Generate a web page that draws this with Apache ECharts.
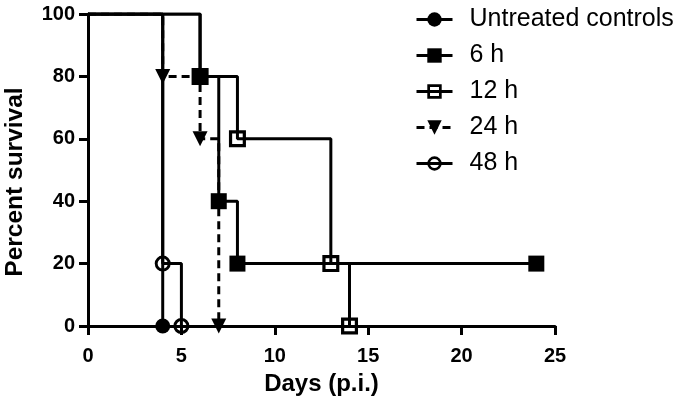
<!DOCTYPE html>
<html>
<head>
<meta charset="utf-8">
<script src="https://cdn.jsdelivr.net/npm/echarts@6/dist/echarts.min.js"></script>
<style>
html,body{margin:0;padding:0;background:#fff;}
#chart{width:675px;height:404px;}
</style>
</head>
<body>
<div id="chart"></div>
<script>
// Kaplan-Meier step data (day, percent survival); first point = start (no marker)
const seriesNames = ['Untreated controls', '6 h', '12 h', '24 h', '48 h'];
const untreatedDays = [0, 4];
const untreatedSurv = [100, 0];
const h6Days = [0, 6, 7, 8, 24];
const h6Surv = [100, 80, 40, 20, 20];
const h12Days = [0, 6, 8, 13, 14];
const h12Surv = [100, 80, 60, 20, 0];
const h24Days = [0, 4, 6, 7];
const h24Surv = [100, 80, 60, 0];
const h48Days = [0, 4, 5];
const h48Surv = [100, 20, 0];
const xTicks = [0, 5, 10, 15, 20, 25];
const yTicks = [0, 20, 40, 60, 80, 100];

function pts(days, surv) {
  return days.map((d, i) => i === 0 ? { value: [d, surv[i]], symbol: 'none' } : [d, surv[i]]);
}

const black = '#000';
const FONT = 'Liberation Sans, Arial, Helvetica, sans-serif';
// hollow ring shapes (hole via opposite winding) so the step lines show through
const OPEN_SQUARE = 'path://M0,0H18V18H0Z M3.4,3.4V14.6H14.6V3.4Z';
const OPEN_CIRCLE = 'path://M8,0A8,8 0 1,1 8,16A8,8 0 1,1 8,0Z M8,2.9A5.1,5.1 0 1,0 8,13.1A5.1,5.1 0 1,0 8,2.9Z';

function mk(name, days, surv, symbol, size, dashed, rotate) {
  return {
    name: name,
    type: 'line',
    step: 'end',
    data: pts(days, surv),
    symbol: symbol,
    symbolSize: size,
    symbolRotate: rotate || 0,
    showAllSymbol: true,
    animation: false,
    lineStyle: { color: black, width: 3, type: dashed ? [8, 5] : 'solid' },
    itemStyle: { color: black, borderColor: black, borderWidth: 0 },
    emphasis: { disabled: true }
  };
}

const chart = echarts.init(document.getElementById('chart'), null, { renderer: 'canvas' });
chart.setOption({
  backgroundColor: '#fff',
  animation: false,
  grid: { left: 88, right: 120, top: 14, bottom: 78, containLabel: false, outerBoundsMode: 'none' },
  legend: {
    orient: 'vertical',
    left: 410,
    top: 2,
    itemWidth: 36,
    itemHeight: 18,
    itemGap: 11,
    selectedMode: false,
    lineStyle: { width: 3 },
    textStyle: { fontFamily: FONT, fontSize: 25, color: black, padding: [0, 0, 0, 12] },
    data: seriesNames
  },
  xAxis: {
    type: 'value',
    min: xTicks[0],
    max: xTicks[xTicks.length - 1],
    interval: 5,
    name: 'Days (p.i.)',
    nameLocation: 'middle',
    nameGap: 46,
    nameTextStyle: { fontFamily: FONT, fontWeight: 'bold', fontSize: 24, color: black },
    axisLine: { show: true, onZero: false, lineStyle: { color: black, width: 3 } },
    axisTick: { show: true, length: 9, lineStyle: { color: black, width: 3 } },
    axisLabel: { margin: 20, fontFamily: FONT, fontWeight: 'bold', fontSize: 20, color: black },
    splitLine: { show: false }
  },
  yAxis: {
    type: 'value',
    min: yTicks[0],
    max: yTicks[yTicks.length - 1],
    interval: 20,
    name: 'Percent survival',
    nameLocation: 'middle',
    nameGap: 60,
    nameTextStyle: { fontFamily: FONT, fontWeight: 'bold', fontSize: 24.5, color: black, padding: [0, 24, 0, 0] },
    axisLine: { show: true, onZero: false, lineStyle: { color: black, width: 3 } },
    axisTick: { show: true, length: 9, lineStyle: { color: black, width: 3 } },
    axisLabel: { margin: 13, fontFamily: FONT, fontWeight: 'bold', fontSize: 20, color: black },
    splitLine: { show: false }
  },
  series: [
    mk(seriesNames[0], untreatedDays, untreatedSurv, 'circle', 15, false),
    mk(seriesNames[2], h12Days, h12Surv, OPEN_SQUARE, 17, false),
    mk(seriesNames[1], h6Days, h6Surv, 'rect', 16, false),
    mk(seriesNames[3], h24Days, h24Surv, 'triangle', 15, true, 180),
    mk(seriesNames[4], h48Days, h48Surv, OPEN_CIRCLE, 16, false)
  ]
});
</script>
</body>
</html>
